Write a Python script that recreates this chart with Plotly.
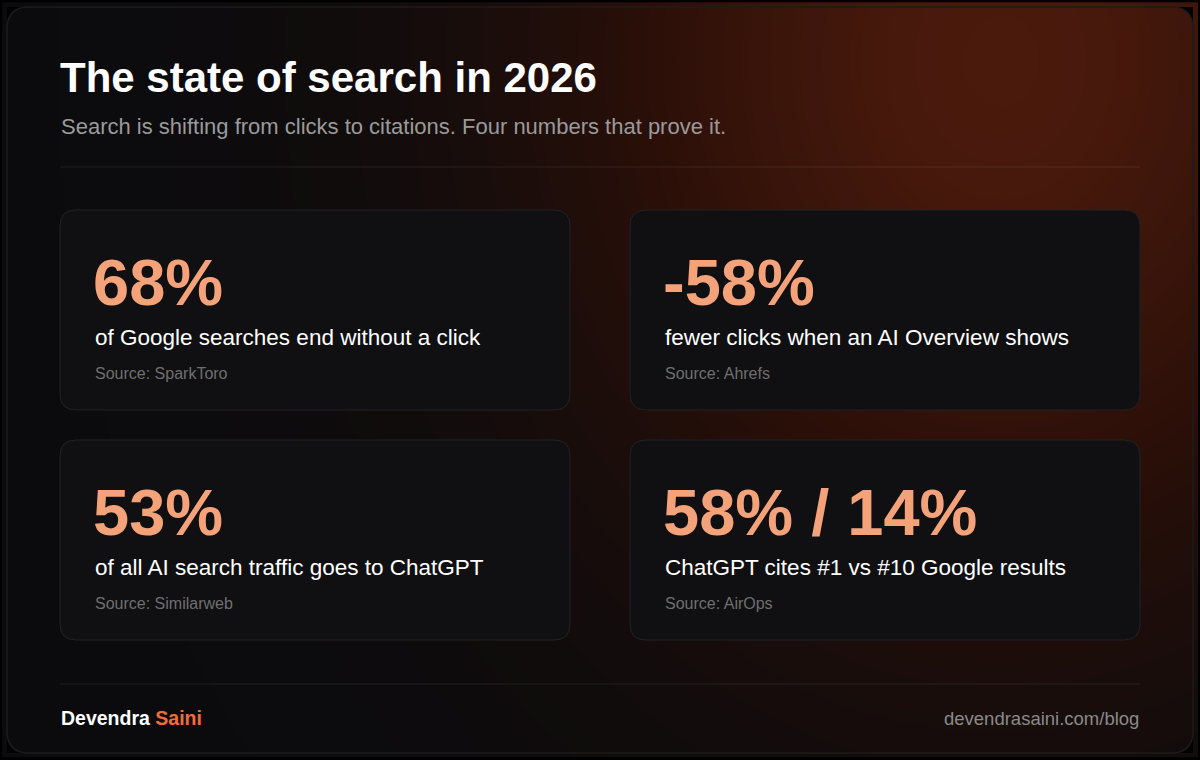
import numpy as np
import plotly.graph_objects as go

title = "The state of search in 2026"
subtitle = "Search is shifting from clicks to citations. Four numbers that prove it."
stat_values = ["68%", "-58%", "53%", "58% / 14%"]
stat_descriptions = [
    "of Google searches end without a click",
    "fewer clicks when an AI Overview shows",
    "of all AI search traffic goes to ChatGPT",
    "ChatGPT cites #1 vs #10 Google results",
]
stat_sources = ["Source: SparkToro", "Source: Ahrefs", "Source: Similarweb", "Source: AirOps"]
author_first, author_last = "Devendra", "Saini"
site = "devendrasaini.com/blog"

W, H = 1200, 760
FONT = "Liberation Sans, Arial, Helvetica, sans-serif"

def rrect(x0, y0, x1, y1, r):
    return (f"M {x0+r},{y0} L {x1-r},{y0} Q {x1},{y0} {x1},{y0+r} L {x1},{y1-r} "
            f"Q {x1},{y1} {x1-r},{y1} L {x0+r},{y1} Q {x0},{y1} {x0},{y1-r} "
            f"L {x0},{y0+r} Q {x0},{y0} {x0+r},{y0} Z")

gx = np.linspace(7, 1193, 120)
gy = np.linspace(7, 753, 80)
X, Y = np.meshgrid(gx, gy)
glow = np.exp(-(((X - 1000) / 430) ** 2 + ((Y - 60) / 520) ** 2))

fig = go.Figure()
fig.add_trace(go.Heatmap(x=gx, y=gy, z=glow, zsmooth="best", showscale=False, hoverinfo="skip",
                         colorscale=[[0, "#0b0b0d"], [0.5, "#2a0f08"], [1, "#4a1a0c"]], zmin=0, zmax=1))

shapes = []
r = 22; x0, y0, x1, y1 = 7, 7, 1193, 753
masks = [
    f"M {x0},{y0} L {x0+r},{y0} Q {x0},{y0} {x0},{y0+r} Z",
    f"M {x1},{y0} L {x1-r},{y0} Q {x1},{y0} {x1},{y0+r} Z",
    f"M {x0},{y1} L {x0+r},{y1} Q {x0},{y1} {x0},{y1-r} Z",
    f"M {x1},{y1} L {x1-r},{y1} Q {x1},{y1} {x1},{y1-r} Z",
]
for m in masks:
    shapes.append(dict(type="path", path=m, fillcolor="#000000", line=dict(width=0), layer="above"))
shapes.append(dict(type="path", path=rrect(x0, y0, x1, y1, r), line=dict(color="#1c1c1c", width=1.5)))
for yy in (167, 684):
    shapes.append(dict(type="line", x0=60, x1=1140, y0=yy, y1=yy, line=dict(color="rgba(255,255,255,0.08)", width=1)))

annotations = [
    dict(x=58, y=77, text=f"<b>{title}</b>", font=dict(size=42, color="#ffffff", family=FONT)),
    dict(x=59, y=126, text=subtitle, font=dict(size=22, color="#9a9a9a", family=FONT)),
    dict(x=59, y=718, text=f"<b>{author_first} <span style='color:#f26b3a'>{author_last}</span></b>",
         font=dict(size=19.5, color="#ffffff", family=FONT)),
    dict(x=1141, y=718, text=site, xanchor="right", font=dict(size=18.5, color="#8a8a8a", family=FONT)),
]

cells = [(60, 210), (630, 210), (60, 440), (630, 440)]
for (cx, cy), v, d, s in zip(cells, stat_values, stat_descriptions, stat_sources):
    shapes.append(dict(type="path", path=rrect(cx, cy, cx + 510, cy + 200, 16),
                       fillcolor="#101012", line=dict(color="#222224", width=1)))
    annotations += [
        dict(x=cx + 31, y=cy + 72, text=f"<b>{v}</b>", font=dict(size=65, color="#f4a27a", family=FONT)),
        dict(x=cx + 33, y=cy + 127, text=d, font=dict(size=22.5, color="#ffffff", family=FONT)),
        dict(x=cx + 33, y=cy + 163, text=s, font=dict(size=16, color="#6f6f6f", family=FONT)),
    ]
for a in annotations:
    a.setdefault("xanchor", "left")
    a.update(yanchor="middle", showarrow=False, xref="x", yref="y")

fig.update_layout(
    width=W, height=H, margin=dict(l=0, r=0, t=0, b=0),
    paper_bgcolor="#000000", plot_bgcolor="#000000",
    xaxis=dict(range=[0, W], visible=False, fixedrange=True),
    yaxis=dict(range=[H, 0], visible=False, fixedrange=True),
    shapes=shapes, annotations=annotations, showlegend=False,
)
body = fig.to_html(full_html=False, include_plotlyjs=True, config={"displayModeBar": False})
with open("out.html", "w", encoding="utf-8") as f:
    f.write("<!DOCTYPE html><html><head><meta charset='utf-8'>"
            "<style>html,body{margin:0;padding:0;background:#000;overflow:hidden}</style>"
            "</head><body>" + body + "</body></html>")
